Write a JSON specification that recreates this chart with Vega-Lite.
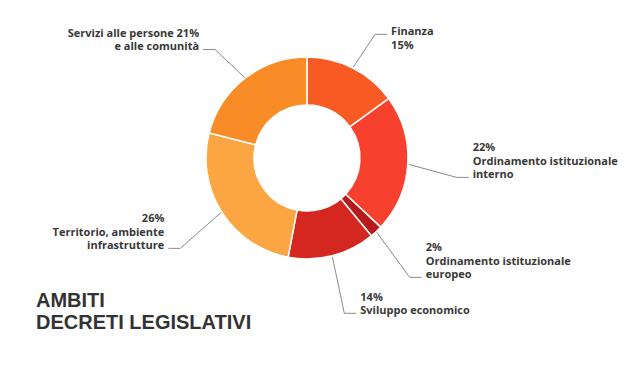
{
  "$schema": "https://vega.github.io/schema/vega-lite/v6.json",
  "width": 640,
  "height": 373,
  "autosize": {"type": "none"},
  "padding": 0,
  "background": "white",
  "config": {"view": {"stroke": null}},
  "title": {
    "text": ["AMBITI", "DECRETI LEGISLATIVI"],
    "orient": "bottom",
    "anchor": "start",
    "frame": "group",
    "offset": -82,
    "dx": 36,
    "baseline": "top",
    "font": "Liberation Sans",
    "fontSize": 20,
    "fontWeight": "bold",
    "lineHeight": 22,
    "color": "#333333"
  },
  "data": {
    "values": [
      {"idx": 1, "name": "Finanza", "pct": 15, "lines": ["Finanza", "15%"]},
      {"idx": 2, "name": "Ordinamento istituzionale interno", "pct": 22, "lines": ["22%", "Ordinamento istituzionale", "interno"]},
      {"idx": 3, "name": "Ordinamento istituzionale europeo", "pct": 2, "lines": ["2%", "Ordinamento istituzionale", "europeo"]},
      {"idx": 4, "name": "Sviluppo economico", "pct": 14, "lines": ["14%", "Sviluppo economico"]},
      {"idx": 5, "name": "Territorio, ambiente infrastrutture", "pct": 26, "lines": ["26%", "Territorio, ambiente", "infrastrutture"]},
      {"idx": 6, "name": "Servizi alle persone e alle comunità", "pct": 21, "lines": ["Servizi alle persone  21%", "e alle comunità"]}
    ]
  },
  "transform": [
    {"window": [{"op": "sum", "field": "pct", "as": "cum"}], "sort": [{"field": "idx"}], "frame": [null, 0]},
    {"calculate": "2*PI*(datum.cum - datum.pct/2)/100", "as": "mid"},
    {"calculate": "sin(datum.mid) >= 0 ? 1 : -1", "as": "side"},
    {"calculate": "102*sin(datum.mid)", "as": "x0"},
    {"calculate": "102*cos(datum.mid)", "as": "y0"},
    {"calculate": "150*sin(datum.mid)", "as": "x1"},
    {"calculate": "150*cos(datum.mid) - 10", "as": "y1"},
    {"calculate": "datum.x1 + 12*datum.side", "as": "x2"},
    {"calculate": "datum.x2 + 4*datum.side", "as": "lx"}
  ],
  "layer": [
    {
      "mark": {"type": "arc", "innerRadius": 53, "outerRadius": 101, "stroke": "white", "strokeWidth": 1.5},
      "encoding": {
        "theta": {"field": "pct", "type": "quantitative", "stack": true},
        "order": {"field": "idx", "type": "quantitative"},
        "color": {
          "field": "name",
          "type": "nominal",
          "legend": null,
          "scale": {
            "domain": ["Finanza", "Ordinamento istituzionale interno", "Ordinamento istituzionale europeo", "Sviluppo economico", "Territorio, ambiente infrastrutture", "Servizi alle persone e alle comunità"],
            "range": ["#F95A24", "#F7412E", "#B51B1B", "#D3271F", "#FBA643", "#F98C27"]
          }
        },
        "x": {"datum": 0, "type": "quantitative", "scale": {"domain": [-307, 333], "nice": false, "zero": false}, "axis": null},
        "y": {"datum": 0, "type": "quantitative", "scale": {"domain": [-215, 158], "nice": false, "zero": false}, "axis": null}
      }
    },
    {
      "mark": {"type": "rule", "color": "#8a8a8a", "strokeWidth": 1},
      "encoding": {
        "x": {"field": "x0", "type": "quantitative"},
        "y": {"field": "y0", "type": "quantitative"},
        "x2": {"field": "x1"},
        "y2": {"field": "y1"}
      }
    },
    {
      "mark": {"type": "rule", "color": "#8a8a8a", "strokeWidth": 1},
      "encoding": {
        "x": {"field": "x1", "type": "quantitative"},
        "y": {"field": "y1", "type": "quantitative"},
        "x2": {"field": "x2"},
        "y2": {"field": "y1"}
      }
    },
    {
      "mark": {
        "type": "text",
        "font": "Open Sans",
        "fontSize": 11,
        "fontWeight": "bold",
        "lineHeight": 13.5,
        "color": "#383838",
        "baseline": "bottom",
        "dy": {"expr": "cos(datum.mid) > 0.85 ? 3 : 3 - (length(datum.lines) - 1) * 13.5"},
        "align": {"expr": "datum.side > 0 ? 'left' : 'right'"}
      },
      "encoding": {
        "x": {"field": "lx", "type": "quantitative"},
        "y": {"field": "y1", "type": "quantitative"},
        "text": {"field": "lines"}
      }
    }
  ]
}
